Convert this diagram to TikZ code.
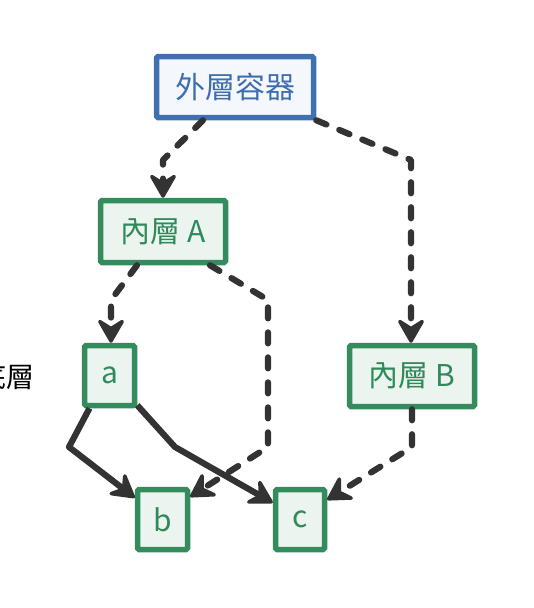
\documentclass[tikz,border=0pt]{standalone}
\usepackage{fontspec}
\setmainfont{Noto Sans CJK TC}
\usetikzlibrary{arrows.meta,calc}
\definecolor{bluebd}{HTML}{4170B2}
\definecolor{bluefill}{HTML}{F4F8FD}
\definecolor{bluetxt}{HTML}{3F6EB0}
\definecolor{greenbd}{HTML}{338B5E}
\definecolor{greenfill}{HTML}{ECF4EF}
\definecolor{greentxt}{HTML}{2F8A5A}
\definecolor{edgec}{HTML}{333333}
\tikzset{
  outerbox/.style={draw=bluebd, fill=bluefill, text=bluetxt, line width=5.5pt, rounded corners=1.5pt, inner sep=0pt, font=\fontsize{30}{32}\selectfont},
  innerbox/.style={draw=greenbd, fill=greenfill, text=greentxt, line width=5.5pt, rounded corners=1.5pt, inner sep=0pt, font=\fontsize{30}{32}\selectfont},
  edgetip/.style={-{Stealth[length=28pt,width=32pt,inset=10pt,round,line width=3.5pt]}},
  dashedge/.style={draw=edgec, line width=6.2pt, line cap=round, line join=round, dash pattern=on 11pt off 14pt, edgetip},
  solidedge/.style={draw=edgec, line width=6.2pt, line join=round, edgetip},
}
\begin{document}
\begin{tikzpicture}[x=1pt,y=-1pt]
\useasboundingbox (0,0) rectangle (534,608);
\node[outerbox, minimum width=157pt, minimum height=61pt] (outer) at (235,87) {外層容器};
\node[innerbox, minimum width=125pt, minimum height=62pt] (ia) at (163,231.5) {內層 A};
\node[innerbox, minimum width=125pt, minimum height=61pt] (ib) at (412,376) {內層 B};
\node[innerbox, minimum width=50pt, minimum height=60pt] (a) at (109.5,375.5) {a};
\node[innerbox, minimum width=50pt, minimum height=60pt] (b) at (162.5,519.5) {b};
\node[innerbox, minimum width=49pt, minimum height=60pt] (c) at (300,519.5) {c};
\node[anchor=east, inner sep=0pt, font=\fontsize{28}{30}\selectfont] (lbl) at (35,377) {底層};
% bends
\coordinate (p1) at (163,160);
\coordinate (p2) at (411,160);
\coordinate (p3) at (111,300);
\coordinate (p4) at (268,300);
\coordinate (p5) at (268,447);
\coordinate (p6) at (69,447);
\coordinate (p7) at (175,447);
\coordinate (p8) at (412,447);
\draw[dashedge] ([xshift=-32pt]outer.south) -- (p1) -- (ia.north);
\draw[dashedge] (outer.south east) -- (p2) -- (p2 |- ib.north);
\draw[dashedge] ([xshift=-26pt]ia.south) -- (p3) -- (p3 |- a.north);
\draw[dashedge] ([xshift=47pt]ia.south) -- (p4) -- (p5) -- ([yshift=-10pt]b.north east);
\draw[solidedge] ([xshift=-20pt]a.south) -- (p6) -- ([yshift=-11pt]b.north west);
\draw[solidedge] ([yshift=3pt]a.south east) -- (p7) -- ([yshift=-16pt]c.north west);
\draw[dashedge] (ib.south) -- (p8) -- ([yshift=-13pt]c.north east);
\end{tikzpicture}
\end{document}
